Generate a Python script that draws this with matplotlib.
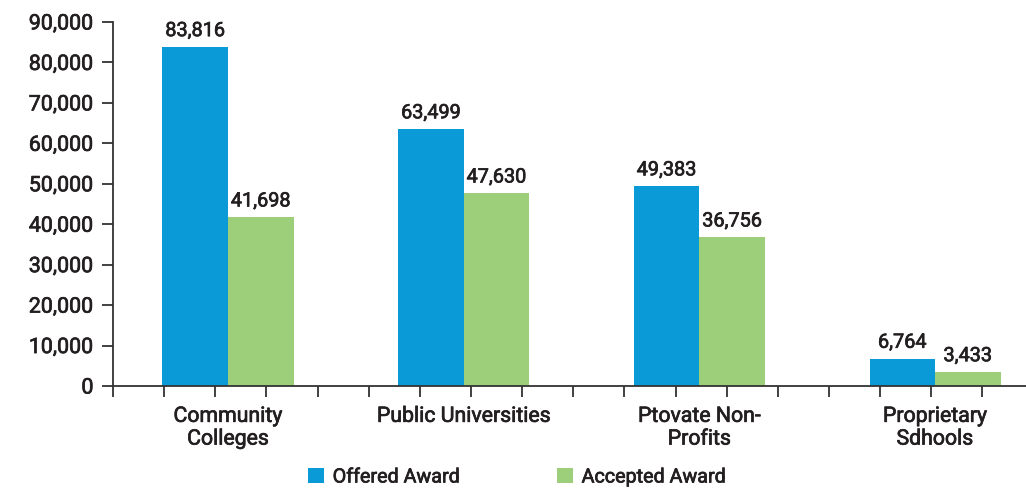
import numpy as np
import matplotlib.pyplot as plt
import matplotlib.patheffects as pe
from matplotlib.ticker import FuncFormatter, FixedLocator

# data
categories = ['Community\nColleges', 'Public Universities', 'Ptovate Non-\nProfits', 'Proprietary\nSdhools']
offered = [83816, 63499, 49383, 6764]
accepted = [41698, 47630, 36756, 3433]

blue = '#0a9ad7'
green = '#9dcf7a'
txt = '#231f20'
# thin stroke so the Roboto regular looks like the medium weight of the original
heavy = [pe.withStroke(linewidth=0.5, foreground=txt)]

plt.rcParams['font.family'] = ['Roboto', 'DejaVu Sans']

fig = plt.figure(figsize=[10.26, 4.88], dpi=100)
ax = fig.add_axes([113/1026, 102/488, 1 - 113/1026, 364/488])

x = np.arange(len(categories))
w = 0.278
b1 = ax.bar(x - w/2, offered, w, color=blue, label='Offered Award')
b2 = ax.bar(x + w/2, accepted, w, color=green, label='Accepted Award')

for bars, vals in [(b1, offered), (b2, accepted)]:
    for r, v in zip(bars, vals):
        ax.text(r.get_x() + r.get_width()/2, v + 1700, '{:,}'.format(v),
                ha='center', va='bottom', fontsize=14.3, color=txt, path_effects=heavy)

ax.set_ylim(0, 90000)
ax.set_yticks(np.arange(0, 90001, 10000))
ax.yaxis.set_major_formatter(FuncFormatter(lambda v, p: '{:,.0f}'.format(v)))
ax.set_xlim(-0.488, 3.386)

# x ticks: labels without marks, plus evenly spaced tick marks
ax.set_xticks(x)
ax.set_xticklabels(categories, fontsize=15.3, color=txt, linespacing=1.25)
ax.tick_params(axis='x', which='major', length=0, pad=15)
ax.xaxis.set_minor_locator(FixedLocator(np.arange(-0.488, 3.4, 0.217)))
ax.tick_params(axis='x', which='minor', length=8, width=1.3, color='#333333', direction='out')

ax.tick_params(axis='y', length=8, width=1.3, color='#333333', labelsize=15.4, labelcolor=txt, pad=6)

for t in ax.get_xticklabels() + ax.get_yticklabels():
    t.set_path_effects(heavy)

for s in ['top', 'right']:
    ax.spines[s].set_visible(False)
for s in ['left', 'bottom']:
    ax.spines[s].set_linewidth(1.3)
    ax.spines[s].set_color('#333333')

leg = fig.legend(handles=[b1, b2], loc='center', bbox_to_anchor=(517/1026, 11/488), ncol=2,
                 frameon=False, handlelength=0.8, handleheight=0.8,
                 columnspacing=4.9, handletextpad=0.45, labelcolor=txt,
                 prop={'size': 14.2})
for t in leg.get_texts():
    t.set_path_effects(heavy)

fig.savefig('out.png', dpi=100)
